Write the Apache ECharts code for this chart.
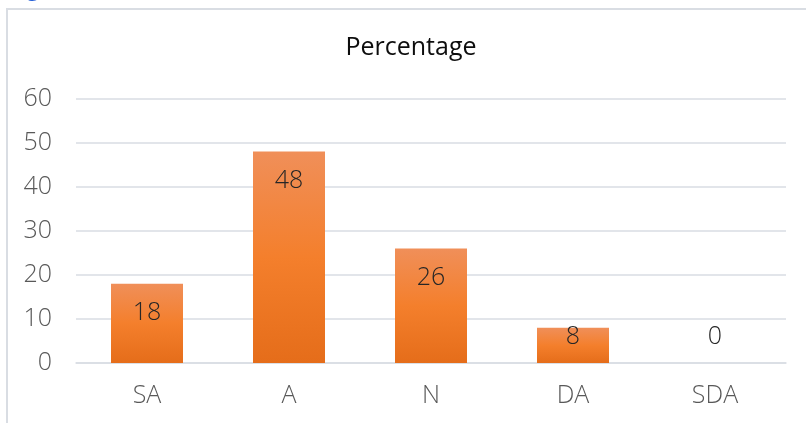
<!DOCTYPE html>
<html>
<head>
<meta charset="utf-8">
<script src="https://cdn.jsdelivr.net/npm/echarts@6/dist/echarts.min.js"></script>
<style>
  html, body { margin: 0; padding: 0; background: #fff; }
  #chart { width: 806px; height: 423px; }
</style>
</head>
<body>
<div id="chart"></div>
<script>
// Survey responses, percentage per answer
const categories = ['SA', 'A', 'N', 'DA', 'SDA'];
const percentages = [18, 48, 26, 8, 0];
const yTicks = { min: 0, max: 60, step: 10 };
const chartTitle = 'Percentage';
const captionText = 'Figure';

const FONT = '"Open Sans", "Noto Sans", sans-serif';
const barFill = new echarts.graphic.LinearGradient(0, 0, 0, 1, [
  { offset: 0, color: '#F08F59' },
  { offset: 0.5, color: '#F47F2C' },
  { offset: 1, color: '#E56D1A' }
]);

// short bars keep their label above the baseline instead of at the bar top
const barData = percentages.map(v => ({
  value: v,
  label: v < 12
    ? { position: 'insideBottom', distance: 14 }
    : { position: 'insideTop', distance: 17 }
}));

const chart = echarts.init(document.getElementById('chart'), null, { renderer: 'canvas' });
chart.setOption({
  animation: false,
  backgroundColor: '#ffffff',
  textStyle: { fontFamily: FONT },
  grid: { left: 76, right: 20, top: 98.7, bottom: 60, containLabel: false },
  graphic: [
    {
      type: 'rect',
      shape: { x: 7, y: 9, width: 900, height: 500 },
      style: { fill: 'none', stroke: '#D9DDE3', lineWidth: 2 },
      silent: true
    },
    {
      type: 'text',
      x: 7, y: -12,
      style: {
        text: captionText, fontFamily: FONT, fontSize: 25,
        fill: '#1F5BD6', align: 'left', verticalAlign: 'middle'
      },
      silent: true
    },
    {
      type: 'text',
      x: 411, y: 48,
      style: {
        text: chartTitle, fontFamily: FONT, fontSize: 25,
        fill: '#0D0D0D', align: 'center', verticalAlign: 'middle'
      },
      silent: true
    }
  ],
  xAxis: {
    type: 'category',
    data: categories,
    axisTick: { show: false },
    axisLine: { show: true, lineStyle: { color: '#D9DDE3', width: 1.5 } },
    axisLabel: { color: '#595959', fontSize: 25, fontWeight: 300, fontFamily: FONT, margin: 20 }
  },
  yAxis: {
    type: 'value',
    min: yTicks.min,
    max: yTicks.max,
    interval: yTicks.step,
    axisLine: { show: false },
    axisTick: { show: false },
    splitLine: { lineStyle: { color: '#D9DDE3', width: 1.5 } },
    axisLabel: { color: '#595959', fontSize: 25, fontWeight: 300, fontFamily: FONT, margin: 24 }
  },
  series: [{
    type: 'bar',
    data: barData,
    barWidth: 72,
    itemStyle: { color: barFill },
    label: {
      show: true,
      color: '#262626',
      fontSize: 25,
      fontWeight: 300,
      fontFamily: FONT
    }
  }]
});
</script>
</body>
</html>
